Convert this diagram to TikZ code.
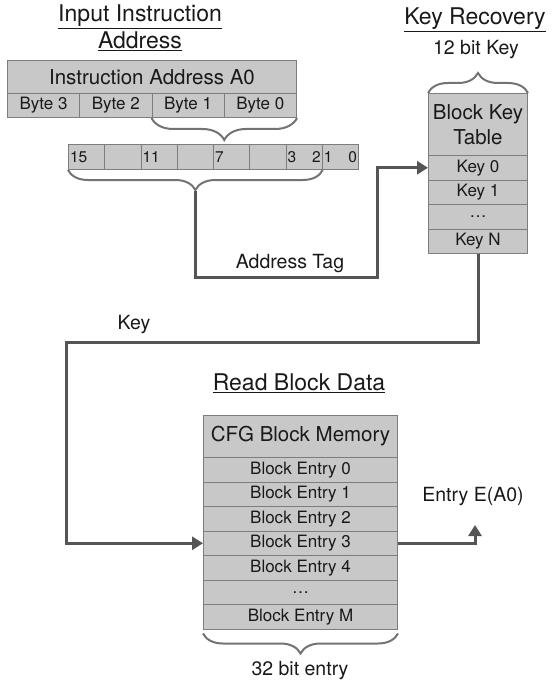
\documentclass[tikz,border=0pt]{standalone}
\usepackage{fontspec}
\setmainfont{TeX Gyre Heros}
\usepackage{tikz}
\usetikzlibrary{positioning, arrows.meta, calc}
\usetikzlibrary{decorations.pathreplacing}
\definecolor{cellgray}{RGB}{200,200,200}
\definecolor{edgegray}{RGB}{125,125,125}
\definecolor{wiregray}{RGB}{85,85,85}
\definecolor{bracegray}{RGB}{115,115,115}
\definecolor{inkgray}{RGB}{25,25,25}
\tikzset{
    cell/.style={draw=edgegray, fill=cellgray, line width=1pt, inner sep=0pt, anchor=north west, text=inkgray, font=\fontsize{17}{20}\selectfont},
    bitcell/.style={cell, minimum width=36.25pt, minimum height=25pt, text width=33pt, align=left, font=\fontsize{15.5}{17}\selectfont},
    title/.style={align=center, text=inkgray, font=\fontsize{23}{27}\selectfont},
    note/.style={text=inkgray, font=\fontsize{19.5}{22}\selectfont},
    wire/.style={draw=wiregray, line width=3pt, -{Triangle[length=11pt, width=13pt]}},
    curly/.style={draw=bracegray, line width=2pt, decorate, decoration={brace, amplitude=#1}}
}

\begin{document}
\begin{tikzpicture}[x=1pt, y=-1pt]
        \useasboundingbox (0,0) rectangle (554,687);

        % Input instruction address
        \node[title] (inputtitle) at (140,28) {\underline{Input Instruction}\\\underline{Address}};
        \node[cell, minimum width=289pt, minimum height=33pt, font=\fontsize{20.5}{23}\selectfont] (addr) at (7,60) {Instruction Address A0};
        \foreach \b [count=\i from 0] in {3,2,1,0}
            \node[cell, minimum width=72.25pt, minimum height=24pt] (byte\b) at (7+72.25*\i,93) {Byte \b};
        \draw[curly=22pt] (byte0.south east) -- (byte1.south west);

        % Lower 16 bits
        \foreach \lbl [count=\i from 0] in {15,,11,,7,,3\hfill 2,1\hfill 0}
            \node[bitcell] (bit\i) at (68+36.25*\i,144) {\lbl};
        \draw[curly=20pt] (bit6.south east) -- (bit0.south west);

        % Key recovery table
        \node[title] (keytitle) at (475,20) {\underline{Key Recovery}};
        \node[note] (keywidth) at (476,50) {12 bit Key};
        \node[cell, minimum width=99pt, minimum height=62pt, align=center, font=\fontsize{20.5}{25}\selectfont] (keyhead) at (428,93) {Block Key\\Table};
        \foreach \k [count=\i from 0] in {Key 0,Key 1,\dots,Key N}
            \node[cell, minimum width=99pt, minimum height=24.5pt] (keyrow\i) at (428,155+24.5*\i) {\k};
        \draw[curly=20pt] (keyhead.north west) -- (keyhead.north east);

        % Address tag to key table
        \coordinate (tagtip) at ($(bit0.south west)!0.5!(bit6.south east)+(0,21)$);
        \coordinate (tagbend) at (377,277);
        \draw[wire] (tagtip) |- (tagbend) |- (keyrow0.west);
        \node[note] (tagtext) at (290,264) {Address Tag};

        % Block memory
        \node[title] (readtitle) at (299,383) {\underline{Read Block Data}};
        \node[cell, minimum width=194pt, minimum height=42pt, font=\fontsize{20.5}{23}\selectfont] (memhead) at (203,415) {CFG Block Memory};
        \foreach \e [count=\i from 0] in {Block Entry 0,Block Entry 1,Block Entry 2,Block Entry 3,Block Entry 4,\dots,Block Entry M}
            \node[cell, minimum width=194pt, minimum height=24.5pt] (entry\i) at (203,457+24.5*\i) {\e};
        \draw[curly=20pt, decoration={raise=4pt}] (entry6.south east) -- (entry6.south west);
        \node[note] (entrywidth) at (300,671) {32 bit entry};

        % Key to block memory
        \coordinate (keybend) at (66,342);
        \draw[wire] (keyrow3.south) |- (keybend) |- (entry3.west);
        \node[note] (keytext) at (134,325) {Key};

        % Output entry
        \coordinate (outtip) at (475,525);
        \draw[wire] (entry3.east) -| (outtip);
        \node[note] (outtext) at (473,497) {Entry E(A0)};
    \end{tikzpicture}
\end{document}
